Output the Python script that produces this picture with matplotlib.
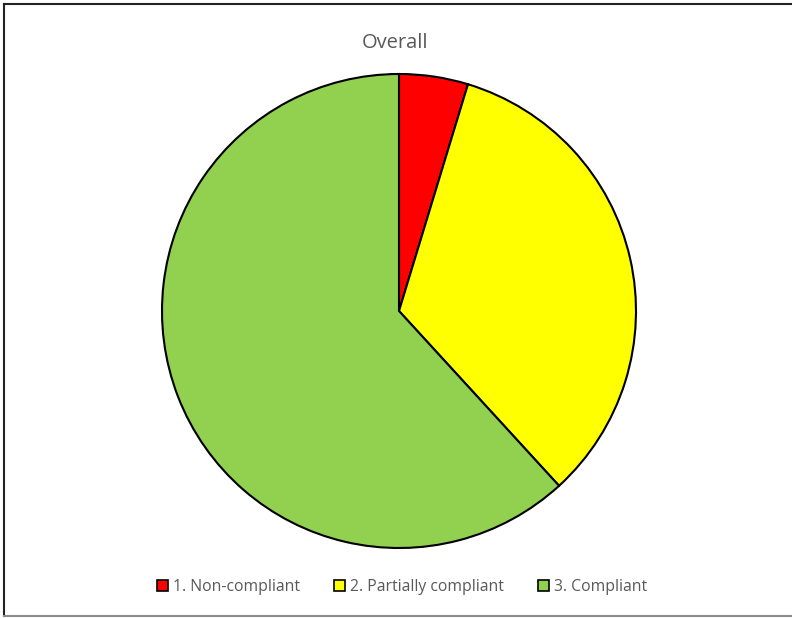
import matplotlib
matplotlib.use("Agg")
import matplotlib.pyplot as plt
from matplotlib.patches import Rectangle, Patch
from matplotlib.lines import Line2D

categories = ["1. Non-compliant", "2. Partially compliant", "3. Compliant"]
values = [4.7, 33.5, 61.8]
colors = ["#FF0000", "#FFFF00", "#92D050"]
title = "Overall"

plt.rcParams['font.family'] = ['Open Sans', 'DejaVu Sans']

fig = plt.figure(figsize=(7.92, 6.18), dpi=100)
# border: dark top/left, gray bottom
fig.lines.append(Line2D([3.5/792, 3.5/792], [1 - 3.5/618, 1 - 615.5/618], transform=fig.transFigure,
                        color="#222222", linewidth=1.5))
fig.lines.append(Line2D([3.5/792, 1.0], [1 - 3.5/618, 1 - 3.5/618], transform=fig.transFigure,
                        color="#222222", linewidth=1.5))
fig.lines.append(Line2D([3.5/792, 1.0], [1 - 615.5/618, 1 - 615.5/618], transform=fig.transFigure,
                        color="#8c8c8c", linewidth=1.5))

ax = fig.add_axes([(399 - 237) / 792, 1 - 548 / 618, 474 / 792, 474 / 618])
ax.pie(values, colors=colors, startangle=90, counterclock=False,
       wedgeprops=dict(edgecolor="black", linewidth=1.5))
ax.set_aspect("equal")
ax.set_xlim(-1, 1)
ax.set_ylim(-1, 1)
ax.axis("off")

fig.text(395 / 792, 1 - 43 / 618, title, ha="center", va="center",
         fontsize=14.5, color="#595959")

handles = [Patch(facecolor=c, edgecolor="black", linewidth=1.2) for c in colors]
leg = fig.legend(handles, categories, loc="center", bbox_to_anchor=(402 / 792, 1 - 587 / 618),
                 ncol=3, frameon=False, fontsize=11.3, handlelength=0.7, handleheight=0.7,
                 handletextpad=0.3, columnspacing=2.2, borderaxespad=0)
for t in leg.get_texts():
    t.set_color("#595959")

fig.savefig("out.png", dpi=100)
